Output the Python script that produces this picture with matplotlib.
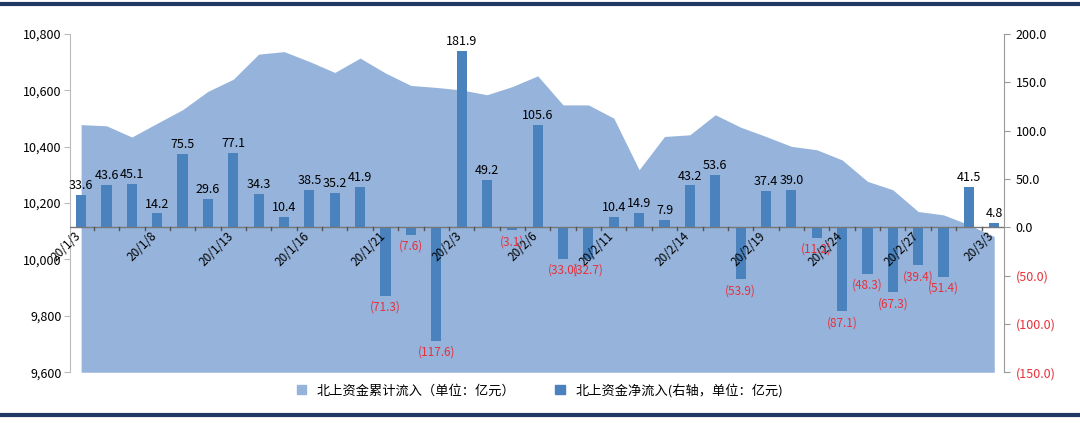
import matplotlib
matplotlib.use("Agg")
import matplotlib.pyplot as plt
import numpy as np
from matplotlib.patches import Patch

plt.rcParams['font.family'] = ['Noto Sans CJK SC', 'DejaVu Sans']

dates = ["20/1/3","20/1/6","20/1/7","20/1/8","20/1/9","20/1/10","20/1/13","20/1/14","20/1/15",
         "20/1/16","20/1/17","20/1/20","20/1/21","20/1/22","20/1/23","20/2/3","20/2/4","20/2/5",
         "20/2/6","20/2/7","20/2/10","20/2/11","20/2/12","20/2/13","20/2/14","20/2/17","20/2/18",
         "20/2/19","20/2/20","20/2/21","20/2/24","20/2/25","20/2/26","20/2/27","20/2/28","20/3/2","20/3/3"]
net_flow = [33.6,43.6,45.1,14.2,75.5,29.6,77.1,34.3,10.4,38.5,35.2,41.9,-71.3,-7.6,-117.6,181.9,49.2,-3.1,
            105.6,-33.0,-32.7,10.4,14.9,7.9,43.2,53.6,-53.9,37.4,39.0,-11.2,-87.1,-48.3,-67.3,-39.4,-51.4,41.5,4.8]
cumulative = [10478,10474,10434,10483,10531,10596,10639,10728,10737,10702,10663,10714,10661,10617,10610,
              10601,10584,10613,10651,10548,10548,10501,10318,10436,10442,10513,10469,10436,10401,10389,
              10353,10277,10247,10170,10158,10123,10081]
left_ticks = [9600,9800,10000,10200,10400,10600,10800]
right_ticks = [-150,-100,-50,0,50,100,150,200]

area_c = '#95b3db'
bar_c = '#4a82bd'
red = '#e8303c'

fig = plt.figure(figsize=(10.8,4.23), dpi=100)
ax = fig.add_axes([0.065,0.12,0.865,0.80])
x = np.arange(len(dates))
ax.fill_between(x, 9600, cumulative, color=area_c, lw=0, zorder=1)
ax.set_ylim(9600,10800)
ax.set_xlim(-0.43, len(dates)-0.6)
ax.set_yticks(left_ticks)
ax.set_yticklabels([f"{v:,}" for v in left_ticks], fontsize=9)
ax.set_xticks([])
for s in ['top','right','bottom']:
    ax.spines[s].set_visible(False)
ax.spines['left'].set_color('#bbbbbb')
ax.tick_params(axis='y', length=4, color='#bbbbbb', pad=2)

ax2 = ax.twinx()
ax2.bar(x, net_flow, width=0.4, color=bar_c, zorder=3)
ax2.set_ylim(-150,200)
ax2.set_yticks(right_ticks)
ax2.set_yticklabels([f"{v:.1f}" if v >= 0 else f"({-v:.1f})" for v in right_ticks], fontsize=9)
for t, v in zip(ax2.get_yticklabels(), right_ticks):
    if v < 0:
        t.set_color(red)
for s in ['top','left','bottom']:
    ax2.spines[s].set_visible(False)
ax2.spines['right'].set_color('#999999')
ax2.tick_params(axis='y', length=4, color='#999999', pad=4)
ax2.axhline(0, color='#777777', lw=1, zorder=4)
for xi in x:
    ax2.plot([xi+0.5, xi+0.5], [0, -3], color='#555555', lw=1, zorder=4)
for xi in range(0, len(dates), 3):
    ax2.text(xi+0.1, -2, dates[xi], rotation=45, ha='right', va='top', fontsize=8.5, zorder=5)
for xi, v in zip(x, net_flow):
    if v >= 0:
        ax2.text(xi, v+3, f"{v:.1f}", ha='center', va='bottom', fontsize=9, zorder=5)
    else:
        ax2.text(xi, v-5, f"({-v:.1f})", ha='center', va='top', fontsize=8.5, color=red, zorder=5)

handles = [Patch(color=area_c, label='北上资金累计流入（单位：亿元）'),
           Patch(color=bar_c, label='北上资金净流入(右轴，单位：亿元)')]
fig.legend(handles=handles, loc='center', bbox_to_anchor=(0.5, 0.077), ncol=2, frameon=False,
           fontsize=9.5, handlelength=0.7, handleheight=0.7, columnspacing=3)

fig.add_artist(plt.Line2D([0,1],[0.99,0.99], color='#1f3864', lw=3, transform=fig.transFigure))
fig.add_artist(plt.Line2D([0,1],[0.018,0.018], color='#1f3864', lw=3, transform=fig.transFigure))
fig.savefig('out.png', dpi=100)
